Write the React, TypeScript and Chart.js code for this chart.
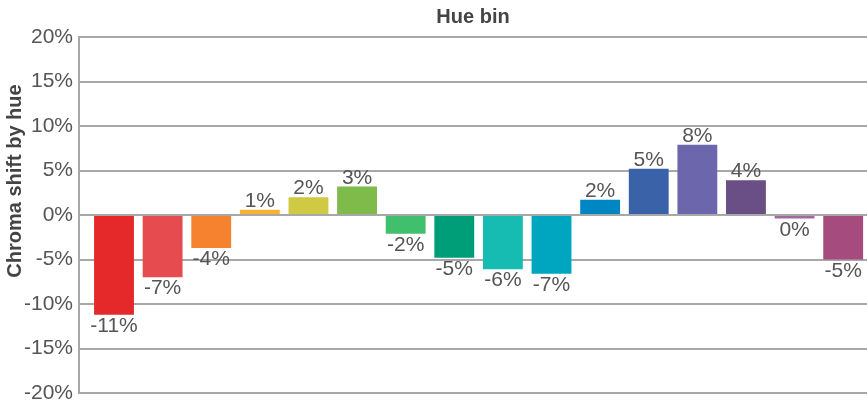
import React, { useEffect, useRef } from "react";
import { Chart, registerables } from "chart.js";

Chart.register(...registerables);

const hueBins = [
  "Red", "Red-pink", "Orange", "Amber", "Yellow-green", "Green",
  "Light green", "Teal", "Turquoise", "Cyan", "Azure", "Blue",
  "Violet", "Purple", "Mauve", "Magenta",
];
const chromaShift = [
  -11.2, -7.0, -3.7, 0.6, 2.0, 3.2, -2.1, -4.8, -6.1, -6.6, 1.7, 5.2, 7.9, 3.9, -0.4, -5.0,
];
const barColors = [
  "#e5292b", "#e54b4f", "#f6812f", "#f8b133", "#cfc944", "#7fbb4b",
  "#40bf6c", "#009d79", "#16bcb1", "#00a5bf", "#0087c3", "#3a62a9",
  "#6c67ad", "#6a4e86", "#a06a9f", "#a64b7e",
];
const yTicks = [-20, -15, -10, -5, 0, 5, 10, 15, 20];
const xTitle = "Hue bin";
const yTitle = "Chroma shift by hue";

const FONT = "'Liberation Sans', Arial, sans-serif";

const labelPlugin = {
  id: "barLabels",
  afterDatasetsDraw(chart: any) {
    const ctx = chart.ctx;
    const meta = chart.getDatasetMeta(0);
    ctx.save();
    ctx.font = `21px ${FONT}`;
    ctx.fillStyle = "#555555";
    ctx.textAlign = "center";
    ctx.textBaseline = "alphabetic";
    meta.data.forEach((bar: any, i: number) => {
      const v = chromaShift[i];
      const txt = `${Math.round(v)}%`;
      if (v >= 0) ctx.fillText(txt, bar.x, bar.y - 3);
      else ctx.fillText(txt, bar.x, bar.y + 17);
    });
    ctx.restore();
  },
};

const titlePlugin = {
  id: "titles",
  afterDraw(chart: any) {
    const ctx = chart.ctx;
    const area = chart.chartArea;
    ctx.save();
    ctx.fillStyle = "#444444";
    ctx.font = `bold 20px ${FONT}`;
    ctx.textAlign = "center";
    ctx.textBaseline = "middle";
    ctx.fillText(xTitle, (area.left + area.right) / 2, 17);
    ctx.translate(15, 181);
    ctx.rotate(-Math.PI / 2);
    ctx.fillText(yTitle, 0, 0);
    ctx.restore();
  },
};

export default function App() {
  const ref = useRef<HTMLCanvasElement>(null);
  useEffect(() => {
    document.body.style.margin = "0";
    const chart = new Chart(ref.current!, {
      type: "bar",
      data: {
        labels: hueBins,
        datasets: [
          {
            data: chromaShift.map((v, i) => ({ x: i, y: v })),
            backgroundColor: barColors,
            borderWidth: 0,
            barPercentage: 0.82,
            categoryPercentage: 1,
          },
        ],
      },
      options: {
        animation: false,
        responsive: false,
        maintainAspectRatio: false,
        layout: { padding: { top: 37, bottom: 12, left: 0, right: 0 } },
        plugins: { legend: { display: false }, tooltip: { enabled: false } },
        scales: {
          x: {
            type: "linear",
            min: -0.72,
            max: 15.49,
            offset: false,
            display: false,
          },
          y: {
            min: -20,
            max: 20,
            afterBuildTicks: (scale: any) => {
              scale.ticks = yTicks.map((v) => ({ value: v }));
            },
            afterFit: (scale: any) => {
              scale.width = 79;
              scale.paddingTop = 0;
              scale.paddingBottom = 0;
            },
            ticks: {
              callback: (v: any) => `${v}%`,
              font: { family: FONT, size: 21 },
              color: "#555555",
              padding: 6,
            },
            grid: { color: "#a8a8a8", lineWidth: 2, drawTicks: false },
            border: { color: "#a8a8a8", width: 2 },
          },
        },
      },
      plugins: [labelPlugin, titlePlugin],
    });
    return () => chart.destroy();
  }, []);
  return <canvas ref={ref} width={867} height={405} style={{ display: "block" }} />;
}
